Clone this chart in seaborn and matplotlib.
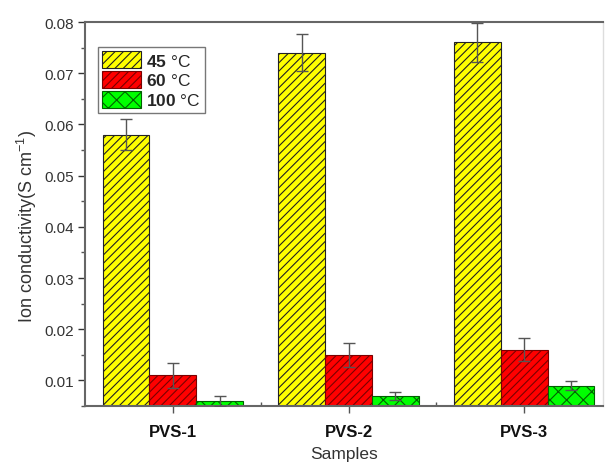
import matplotlib
matplotlib.use("Agg")
import matplotlib.pyplot as plt
import seaborn as sns
import pandas as pd
import numpy as np
from matplotlib.ticker import MultipleLocator
from matplotlib.patches import Patch

samples = ["PVS-1", "PVS-2", "PVS-3"]
temps = ["45 °C", "60 °C", "100 °C"]
cond_45 = [0.058, 0.074, 0.076]
cond_60 = [0.011, 0.015, 0.016]
cond_100 = [0.006, 0.007, 0.009]
err_45 = [0.003, 0.0036, 0.0038]
err_60 = [0.0025, 0.0023, 0.0022]
err_100 = [0.001, 0.0008, 0.0008]

sns.set_theme(style="ticks")
plt.rcParams['font.family'] = ['Liberation Sans', 'DejaVu Sans']
plt.rcParams['mathtext.fontset'] = 'custom'
plt.rcParams['mathtext.rm'] = 'Liberation Sans'
plt.rcParams['mathtext.bf'] = 'Liberation Sans:bold'
plt.rcParams['hatch.linewidth'] = 0.8

vals = [cond_45, cond_60, cond_100]
errs = [err_45, err_60, err_100]
rows = []
for t, v, e in zip(temps, vals, errs):
    for s, vv, ee in zip(samples, v, e):
        rows.append({"Sample": s, "Temp": t, "Cond": vv, "Err": ee})
df = pd.DataFrame(rows)

fills = ["#FFFF00", "#FF0000", "#00FF00"]
edges = ["#222222", "#7A0000", "#006000"]
hatches = ["////", "////", "xx"]

fig = plt.figure(figsize=(6.09, 4.64), dpi=100)
ax = fig.add_axes([0.1396, 0.1228, 0.851, 0.8276])

sns.barplot(data=df, x="Sample", y="Cond", hue="Temp", hue_order=temps,
            order=samples, palette=fills, errorbar=None, width=0.8,
            saturation=1, ax=ax, legend=False)

for cont, fc, ec, h, t in zip(ax.containers, fills, edges, hatches, temps):
    sub = df[df.Temp == t].set_index("Sample").loc[samples]
    xs = []
    for p in cont.patches:
        p.set_facecolor(fc)
        p.set_edgecolor(ec)
        p.set_hatch(h)
        p.set_linewidth(0.8)
        xs.append(p.get_x() + p.get_width() / 2)
    ax.errorbar(xs, sub["Cond"].values, yerr=sub["Err"].values, fmt="none",
                ecolor="#555555", elinewidth=1.0, capsize=4, capthick=1.0, zorder=5)

ax.set_ylim(0.005, 0.08)
ax.set_xlim(-0.5, 2.45)
ax.yaxis.set_minor_locator(MultipleLocator(0.005))
yt = np.arange(0.01, 0.0801, 0.01)
ax.set_yticks(yt)
ax.set_yticklabels([f"{v:.2f}" for v in yt])
ax.set_xticks(range(len(samples)))
ax.set_xticks([0.5, 1.5], minor=True)
ax.set_xticklabels(samples, fontweight="bold", fontsize=12, color="#111111")

ax.tick_params(axis="y", which="major", direction="out", length=5, width=1,
               labelsize=11, colors="#333333", pad=3)
ax.tick_params(axis="y", which="minor", direction="out", length=3, width=1, color="#555555")
ax.tick_params(axis="x", which="major", direction="out", length=5, width=1, color="#555555", pad=8)
ax.tick_params(axis="x", which="minor", direction="in", length=3, width=1, color="#555555")

for side in ["left", "bottom", "top"]:
    ax.spines[side].set_color("#666666")
    ax.spines[side].set_linewidth(1.5)
ax.spines["right"].set_color("#dddddd")
ax.spines["right"].set_linewidth(1.0)

ax.set_ylabel("Ion conductivity(S cm$^{-1}$)", fontsize=13, color="#333333", labelpad=6)
ax.yaxis.set_label_coords(-0.088, 0.47)
ax.set_xlabel("Samples", fontsize=12.5, color="#333333", labelpad=5)

handles = [Patch(facecolor=fc, edgecolor=ec, hatch=h, linewidth=0.8)
           for fc, ec, h in zip(fills, edges, hatches)]
labels = [r"$\mathbf{" + t.split()[0] + r"}$ °C" for t in temps]
leg = ax.legend(handles, labels, loc="upper left", bbox_to_anchor=(0.025, 0.935),
                frameon=True, fancybox=False, edgecolor="#555555", fontsize=12.5,
                handlelength=2.2, handleheight=1.1, handletextpad=0.3,
                labelspacing=0.15, borderpad=0.25, borderaxespad=0)
leg.get_frame().set_linewidth(1.0)

fig.savefig("out.png", dpi=100)
